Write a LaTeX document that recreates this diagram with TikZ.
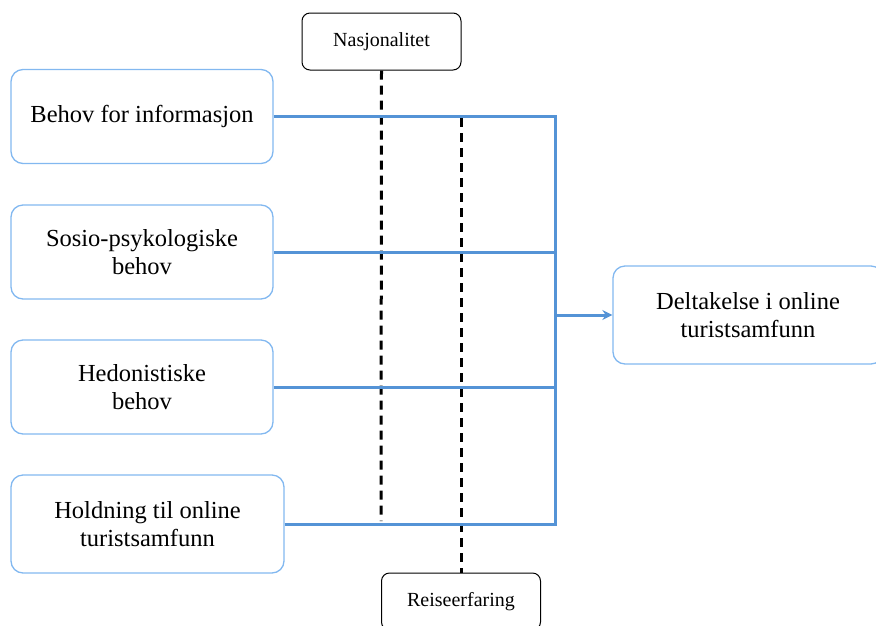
\documentclass[tikz,border=0pt]{standalone}
\usepackage{fontspec}
\setmainfont{Liberation Serif}
\usetikzlibrary{arrows.meta}
\definecolor{lineblue}{RGB}{84,147,214}
\definecolor{boxblue}{RGB}{130,184,240}
\begin{document}
\begin{tikzpicture}[>={Stealth[length=10pt, width=10pt]}, x=1pt, y=-1pt,
    factor/.style={draw=boxblue, line width=1.3pt, rounded corners=12pt, align=center,
        minimum width=262pt, minimum height=94pt, font=\fontsize{24.5}{28}\selectfont},
    moderator/.style={draw=black, line width=1pt, rounded corners=8pt,
        minimum width=159pt, minimum height=57pt, font=\fontsize{20}{24}\selectfont},
    link/.style={draw=lineblue, line width=3pt},
    mod/.style={draw=black, line width=3pt, dash pattern=on 9pt off 6pt}]
    \useasboundingbox (0,0) rectangle (876,625);
    \node[moderator] (nasj) at (381.5,41.5) {Nasjonalitet};
    \node[moderator] (reis) at (461,601.5) {Reiseerfaring};
    \node[factor] (info) at (142,116.5) {Behov for informasjon};
    \node[factor] (sosio) at (142,252) {Sosio-psykologiske\\behov};
    \node[factor] (hedon) at (142,387) {Hedonistiske\\behov};
    \node[factor, minimum width=273pt, minimum height=98pt] (hold) at (147.5,524) {Holdning til online\\turistsamfunn};
    \node[factor, minimum width=270pt, minimum height=98pt] (delt) at (748,315) {Deltakelse i online\\turistsamfunn};
    \coordinate (bus) at (555,315);
    \coordinate (nend) at (381,521);
    \coordinate (rtop) at (461,118);
    % moderators
    \draw[mod] (nasj.south) -- (nend);
    \draw[mod] (rtop) -- (reis.north);
    % factors to outcome
    \draw[link] (info.east) -- (info.east -| bus);
    \draw[link] (sosio.east) -- (sosio.east -| bus);
    \draw[link] (hedon.east) -- (hedon.east -| bus);
    \draw[link] (hold.east) -- (hold.east -| bus);
    \draw[link, line cap=rect] (info.east -| bus) -- (hold.east -| bus);
    \draw[link, ->] (bus) -- (delt.west);
\end{tikzpicture}
\end{document}
